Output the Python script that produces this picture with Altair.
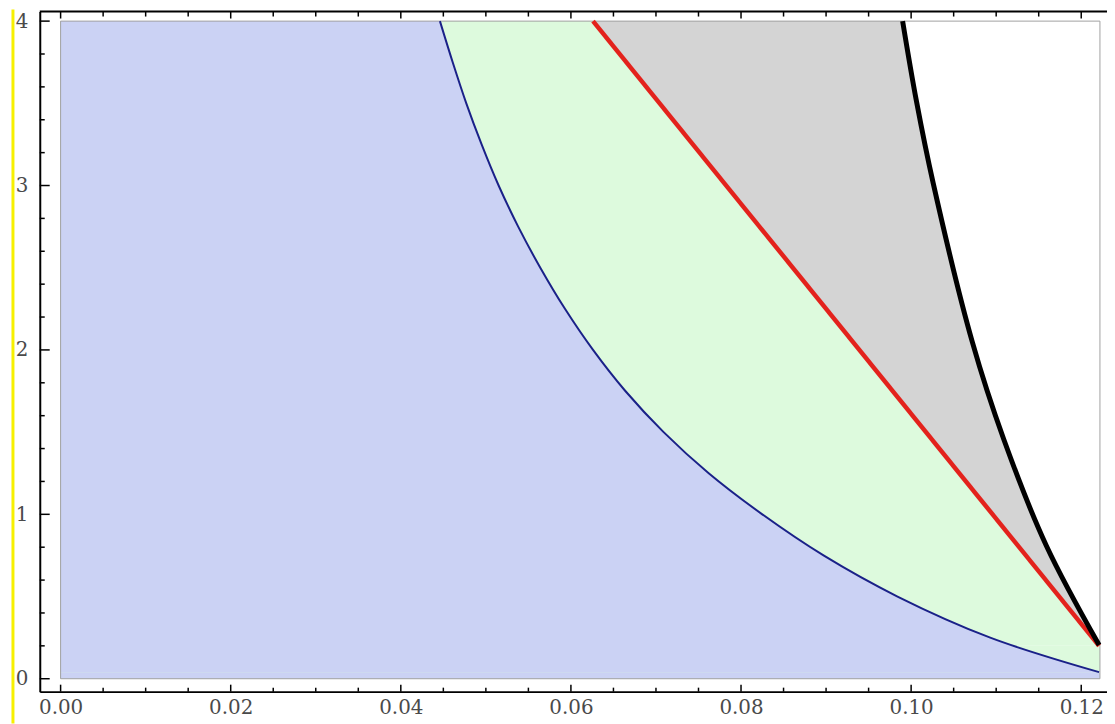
import altair as alt
import pandas as pd

# ---- data ----
blue_y = [4.0, 3.75, 3.5, 3.25, 3.0, 2.75, 2.5, 2.25, 2.0, 1.75, 1.5, 1.25, 1.0,
          0.75, 0.5, 0.25, 0.04]
blue_x = [0.0446, 0.0461, 0.0477, 0.0495, 0.0515, 0.0538, 0.0564, 0.0593, 0.0626,
          0.0664, 0.0709, 0.0762, 0.0825, 0.0897, 0.0984, 0.1093, 0.1221]
red_y = [4.0, 0.2]
red_x = [0.0626, 0.1221]
black_y = [4.0, 3.52, 3.013, 2.047, 1.455, 0.809, 0.205]
black_x = [0.0990, 0.1006, 0.1026, 0.1072, 0.1109, 0.1159, 0.1221]
x_edge = 0.1222
y_top = 4.0
y_red_end = 0.2
y_blue_end = 0.04

x_major = [0.0, 0.02, 0.04, 0.06, 0.08, 0.10, 0.12]
x_minor = [0.005, 0.01, 0.015, 0.025, 0.03, 0.035, 0.045, 0.05, 0.055,
           0.065, 0.07, 0.075, 0.085, 0.09, 0.095, 0.105, 0.11, 0.115]
y_major = [0, 1, 2, 3, 4]
y_minor = [0.2, 0.4, 0.6, 0.8, 1.2, 1.4, 1.6, 1.8, 2.2, 2.4, 2.6, 2.8,
           3.2, 3.4, 3.6, 3.8]

W, H = 1075, 685

blue_df = pd.DataFrame({"x": blue_x, "y": blue_y})
red_df = pd.DataFrame({"x": red_x, "y": red_y})
black_df = pd.DataFrame({"x": black_x, "y": black_y})
strip_df = pd.DataFrame({"x0": [0.0, 0.0], "x1": [x_edge, x_edge],
                         "y0": [0.0, 0.0], "y1": [y_red_end, y_blue_end],
                         "k": ["green", "blue"]})
frame_df = pd.DataFrame({"x0": [0.0], "x1": [x_edge], "y0": [0.0], "y1": [y_top]})
xmaj_df = pd.DataFrame({"v": x_major})
xmin_df = pd.DataFrame({"v": x_minor})
ymaj_df = pd.DataFrame({"v": y_major})
ymin_df = pd.DataFrame({"v": y_minor})
one_df = pd.DataFrame({"a": [0]})

xs = alt.Scale(domain=[-0.00245, 0.12303], nice=False, zero=False)
ys = alt.Scale(domain=[-0.0785, 4.058], nice=False, zero=False)

FONT = "DejaVu Serif"
x_axis = alt.Axis(values=x_major, format=".2f", title=None, grid=False, tickSize=0,
                  labelFont=FONT, labelFontSize=20, labelColor="#4a4a4a",
                  labelPadding=6, labelFlush=False, labelOverlap=False,
                  domainColor="black", domainWidth=2)
y_axis = alt.Axis(values=y_major, format="d", title=None, grid=False, tickSize=0,
                  labelFont=FONT, labelFontSize=20, labelColor="#4a4a4a",
                  labelPadding=12, labelFlush=False, labelOverlap=False,
                  domainColor="black", domainWidth=2)

def X(f):
    return alt.X(f, type="quantitative", scale=xs, axis=x_axis)

def Y(f):
    return alt.Y(f, type="quantitative", scale=ys, axis=y_axis)

gray_area = alt.Chart(black_df).mark_area(orient="horizontal", interpolate="catmull-rom",
                                          color="#d4d4d4", opacity=1).encode(
    y=Y("y"), x=X("x"), x2=alt.datum(0))
green_area = alt.Chart(red_df).mark_area(orient="horizontal", color="#ddfadd", opacity=1).encode(
    y=Y("y"), x=X("x"), x2=alt.datum(0))
green_strip = alt.Chart(strip_df).transform_filter(alt.datum.k == "green").mark_rect(
    color="#ddfadd", opacity=1).encode(x=X("x0"), x2="x1", y=Y("y0"), y2="y1")
blue_area = alt.Chart(blue_df).mark_area(orient="horizontal", interpolate="catmull-rom",
                                         color="#cbd2f4", opacity=1).encode(
    y=Y("y"), x=X("x"), x2=alt.datum(0))
blue_strip = alt.Chart(strip_df).transform_filter(alt.datum.k == "blue").mark_rect(
    color="#cbd2f4", opacity=1).encode(x=X("x0"), x2="x1", y=Y("y0"), y2="y1")
frame = alt.Chart(frame_df).mark_rect(filled=False, stroke="#a0a0a0", strokeWidth=1).encode(
    x=X("x0"), x2="x1", y=Y("y0"), y2="y1")

blue_line = alt.Chart(blue_df).mark_line(interpolate="catmull-rom", color="#1a2188",
                                         strokeWidth=2).encode(x=X("x"), y=Y("y"))
red_line = alt.Chart(red_df).mark_line(color="#e3221c", strokeWidth=4.5).encode(x=X("x"), y=Y("y"))
black_line = alt.Chart(black_df).mark_line(interpolate="catmull-rom", color="black",
                                           strokeWidth=5).encode(x=X("x"), y=Y("y"))

tick_style = dict(color="black", strokeWidth=1.5)
xb_maj = alt.Chart(xmaj_df).mark_rule(**tick_style).encode(x=X("v"), y=alt.value(H), y2=alt.value(H - 7))
xb_min = alt.Chart(xmin_df).mark_rule(**tick_style).encode(x=X("v"), y=alt.value(H), y2=alt.value(H - 4))
xt_maj = alt.Chart(xmaj_df).mark_rule(**tick_style).encode(x=X("v"), y=alt.value(0), y2=alt.value(7))
xt_min = alt.Chart(xmin_df).mark_rule(**tick_style).encode(x=X("v"), y=alt.value(0), y2=alt.value(5))
yl_maj = alt.Chart(ymaj_df).mark_rule(**tick_style).encode(y=Y("v"), x=alt.value(0), x2=alt.value(10))
yl_min = alt.Chart(ymin_df).mark_rule(**tick_style).encode(y=Y("v"), x=alt.value(0), x2=alt.value(5))

top_line = alt.Chart(one_df).mark_rule(color="black", strokeWidth=2).encode(
    x=alt.value(0), x2=alt.value(W), y=alt.value(0))
yellow = alt.Chart(one_df).mark_rule(color="#f7f000", strokeWidth=3).encode(
    x=alt.value(-27), y=alt.value(-2), y2=alt.value(H + 32))

chart = alt.layer(
    gray_area, green_area, green_strip, blue_area, blue_strip, frame,
    blue_line, red_line, black_line,
    xb_maj, xb_min, xt_maj, xt_min, yl_maj, yl_min, top_line, yellow,
).properties(
    width=W, height=H,
    autosize=alt.AutoSizeParams(type="none"),
    padding={"left": 32, "top": 1, "right": 0, "bottom": 30},
    background="white",
).configure_view(stroke=None)

chart.save("out.html", embed_options={"renderer": "svg", "actions": False})
